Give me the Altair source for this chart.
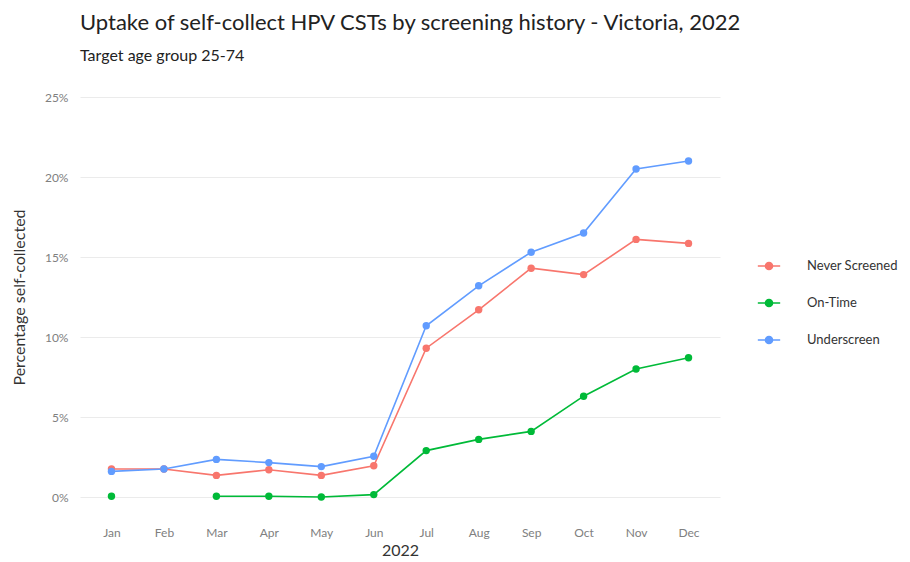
import altair as alt
import pandas as pd

months = ["Jan", "Feb", "Mar", "Apr", "May", "Jun", "Jul", "Aug", "Sep", "Oct", "Nov", "Dec"]
series = ["Never Screened", "On-Time", "Underscreen"]
colors = ["#F8766D", "#00BA38", "#619CFF"]

never_screened = [1.75, 1.75, 1.35, 1.7, 1.35, 1.95, 9.3, 11.7, 14.3, 13.9, 16.1, 15.85]
on_time = [0.05, None, 0.05, 0.05, 0.0, 0.15, 2.9, 3.6, 4.1, 6.3, 8.0, 8.7]
underscreen = [1.6, 1.75, 2.35, 2.15, 1.9, 2.55, 10.7, 13.2, 15.3, 16.5, 20.5, 21.0]

rows = []
for name, vals in zip(series, [never_screened, on_time, underscreen]):
    for m, v in zip(months, vals):
        rows.append({"month": m, "group": name, "pct": v})
df = pd.DataFrame(rows)

FONT = "Lato"

x = alt.X("month:O", sort=months, title="2022",
          scale=alt.Scale(type="point", padding=0.6),
          axis=alt.Axis(labelAngle=0, ticks=False, domain=False, grid=False,
                        labelColor="#808080", labelFontSize=12, labelPadding=10,
                        titleFontSize=16, titleColor="#333333", titleFontWeight="normal",
                        titlePadding=4))
y = alt.Y("pct:Q", title="Percentage self-collected",
          scale=alt.Scale(domain=[-1.25, 26.25], nice=False, zero=False),
          axis=alt.Axis(values=[0, 5, 10, 15, 20, 25], labelExpr="datum.value + '%'",
                        ticks=False, domain=False, gridColor="#ebebeb", gridWidth=1.2,
                        labelColor="#808080", labelFontSize=12, labelPadding=12,
                        titleFontSize=16, titleColor="#333333", titleFontWeight="normal",
                        titlePadding=17))
color = alt.Color("group:N", scale=alt.Scale(domain=series, range=colors),
                  legend=alt.Legend(title=None, orient="none", legendX=677, legendY=177,
                                    symbolType="M-1,0H1M0.32,0A0.32,0.32 0 1 1 -0.32,0A0.32,0.32 0 1 1 0.32,0",
                                    symbolSize=500, symbolStrokeWidth=1.5,
                                    labelFontSize=13, labelColor="#333333", labelOffset=26,
                                    rowPadding=18))

base = alt.Chart(df).encode(x=x, y=y, color=color)
lines = base.mark_line(strokeWidth=1.6)
points = base.mark_circle(size=55, opacity=1)

chart = (lines + points).properties(
    width=640, height=440,
    title=alt.TitleParams(
        "Uptake of self-collect HPV CSTs by screening history - Victoria, 2022",
        subtitle="Target age group 25-74",
        anchor="start", frame="group", offset=12,
        fontSize=22, font=FONT, fontWeight="normal", color="#222222",
        subtitleFontSize=16, subtitleFont=FONT, subtitleColor="#222222", subtitlePadding=13),
    autosize=alt.AutoSizeParams(type="none"),
    padding={"left": 72, "top": 69, "right": 182, "bottom": 45},
).configure(font=FONT).configure_view(stroke=None)

chart.save("out.html", embed_options={"renderer": "svg", "actions": False})
